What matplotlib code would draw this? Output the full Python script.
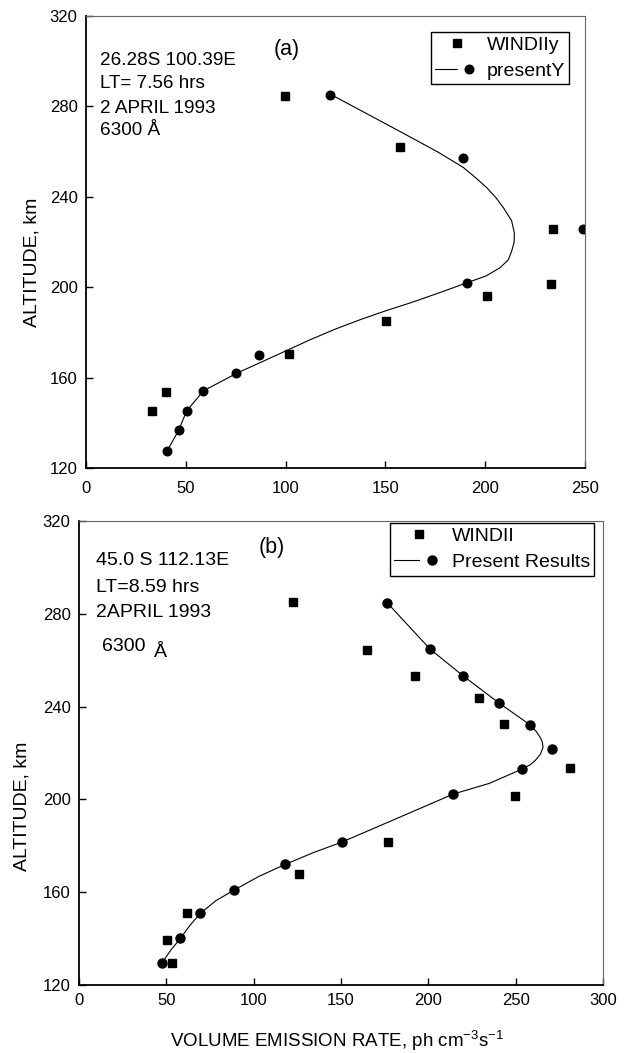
import matplotlib
matplotlib.use("Agg")
import matplotlib.pyplot as plt
from matplotlib.legend_handler import HandlerTuple

plt.rcParams['font.family'] = ['Liberation Sans', 'DejaVu Sans']
plt.rcParams['mathtext.default'] = 'regular'

# panel (a)
windii_a_x = [33.2, 39.9, 101.9, 150.1, 201.0, 233.0, 234.1, 157.3, 99.7]
windii_a_y = [145.2, 153.8, 170.4, 185.2, 196.0, 201.2, 225.9, 261.9, 284.6]
present_a_x = [40.7, 46.4, 50.4, 58.8, 75.3, 86.5, 190.7, 249.2, 189.0, 122.2]
present_a_y = [127.6, 136.6, 145.2, 154.0, 161.8, 170.1, 201.7, 225.9, 257.2, 285.2]
fit_a_x = [40.7, 46.4, 50.4, 58.8, 75.5, 92.2, 112.2, 124.5, 137.3, 150.0, 162.3, 176.0,
           190.7, 200.5, 207.4, 211.5, 213.3, 214.5, 214.6, 213.2, 209.1, 205.2, 200.7,
           195.0, 189.0, 176.5, 159.0, 142.3, 122.6]
fit_a_y = [127.6, 136.6, 145.2, 154.1, 161.9, 168.6, 176.7, 181.3, 185.6, 189.5, 193.0,
           197.2, 201.9, 205.0, 208.6, 212.0, 216.0, 220.0, 224.1, 229.5, 235.2, 239.8,
           244.1, 248.6, 253.0, 259.7, 268.1, 276.0, 285.3]

# panel (b)
windii_b_x = [53.0, 50.1, 62.1, 125.7, 177.1, 249.7, 281.0, 243.2, 228.8, 192.2, 165.0, 122.5]
windii_b_y = [129.6, 139.3, 150.9, 167.8, 181.8, 201.6, 213.4, 232.4, 243.8, 253.2, 264.4, 285.2]
present_b_x = [47.6, 58.1, 69.5, 89.0, 118.1, 150.5, 214.3, 253.5, 270.7, 258.3, 240.2,
               220.0, 201.0, 176.4]
present_b_y = [129.6, 140.1, 150.9, 161.0, 172.0, 181.6, 202.3, 213.0, 221.9, 232.1, 241.7,
               253.2, 264.8, 284.8]
fit_b_x = [47.6, 52.5, 58.1, 63.5, 69.5, 78.5, 89.0, 103.0, 118.1, 134.0, 150.5, 182.0,
           214.3, 234.9, 253.5, 258.5, 261.5, 264.2, 265.7, 265.3, 264.4, 261.8, 258.3,
           240.2, 220.0, 201.0, 176.4]
fit_b_y = [129.6, 135.0, 140.1, 145.7, 150.9, 156.4, 161.0, 166.8, 172.0, 177.0, 181.6,
           191.8, 202.3, 206.9, 213.0, 215.0, 217.0, 219.5, 222.5, 224.5, 226.3, 229.3,
           232.1, 241.7, 253.2, 264.8, 284.8]

yticks = [120, 160, 200, 240, 280, 320]
xticks_a = [0, 50, 100, 150, 200, 250]
xticks_b = [0, 50, 100, 150, 200, 250, 300]

fig = plt.figure(figsize=(6.24, 10.53), dpi=100)
ax1 = fig.add_axes([0.1378, 0.5556, 0.7997, 0.4292])
ax2 = fig.add_axes([0.1266, 0.0646, 0.8397, 0.4406])


def style(ax, xticks, xmax, xpad):
    ax.set_xlim(0, xmax)
    ax.set_ylim(120, 320)
    ax.set_xticks(xticks)
    ax.set_yticks(yticks)
    ax.tick_params(direction='in', length=5, width=1, color='black')
    ax.tick_params(axis='x', labelsize=12, pad=xpad)
    ax.tick_params(axis='y', labelsize=12, pad=6)
    for s in ['left', 'bottom']:
        ax.spines[s].set_linewidth(1.3)
    for s in ['top', 'right']:
        ax.spines[s].set_linewidth(0.8)
        ax.spines[s].set_color('#666666')


def panel(ax, wx, wy, px, py, fx, fy, ms_sq, ms_c):
    ln, = ax.plot(fx, fy, color='black', lw=0.8)
    sq, = ax.plot(wx, wy, ls='none', marker='s', ms=ms_sq, color='black', clip_on=False)
    ci, = ax.plot(px, py, ls='none', marker='o', ms=ms_c, color='black', clip_on=True)
    return ln, sq, ci


# ---- (a)
style(ax1, xticks_a, 250, 9.5)
ln, sq, ci = panel(ax1, windii_a_x, windii_a_y, present_a_x, present_a_y,
                   fit_a_x, fit_a_y, 5.5, 6.2)
ax1.set_ylabel('ALTITUDE, km', fontsize=14)
ax1.yaxis.set_label_coords(-0.092, 0.454)
leg = ax1.legend([sq, (ln, ci)], ['WINDIIy', 'presentY'],
                 handler_map={tuple: HandlerTuple(ndivide=None, pad=0)},
                 loc='upper right', bbox_to_anchor=(0.968, 0.9646), borderaxespad=0,
                 fancybox=False, framealpha=1, edgecolor='black', fontsize=14,
                 handlelength=2.3, handletextpad=0.36, labelspacing=0.45, borderpad=0.2)
leg.get_frame().set_linewidth(1.0)

txt_a = ['26.28S 100.39E', 'LT= 7.56 hrs', '2 APRIL 1993', '6300 Å']
ys_a = [0.8916, 0.8407, 0.7854, 0.7367]
for t, yy in zip(txt_a, ys_a):
    ax1.text(0.028, yy, t, transform=ax1.transAxes, fontsize=13.6, va='baseline')
ax1.text(0.403, 0.9146, '(a)', transform=ax1.transAxes, fontsize=15.5,
         ha='center', va='baseline')

# ---- (b)
style(ax2, xticks_b, 300, 6)
ln, sq, ci = panel(ax2, windii_b_x, windii_b_y, present_b_x, present_b_y,
                   fit_b_x, fit_b_y, 6, 6.5)
ax2.set_ylabel('ALTITUDE, km', fontsize=14)
ax2.yaxis.set_label_coords(-0.0935, 0.386)
leg = ax2.legend([sq, (ln, ci)], ['WINDII', 'Present Results'],
                 handler_map={tuple: HandlerTuple(ndivide=None, pad=0)},
                 loc='upper right', bbox_to_anchor=(0.983, 0.9957), borderaxespad=0,
                 fancybox=False, framealpha=1, edgecolor='black', fontsize=14,
                 handlelength=2.6, handletextpad=0.36, labelspacing=0.45, borderpad=0.22)
leg.get_frame().set_linewidth(1.0)

txt_b = ['45.0 S 112.13E', 'LT=8.59 hrs', '2APRIL 1993']
ys_b = [0.905, 0.847, 0.793]
for t, yy in zip(txt_b, ys_b):
    ax2.text(0.0324, yy, t, transform=ax2.transAxes, fontsize=14, va='baseline')
ax2.text(0.0439, 0.719, '6300', transform=ax2.transAxes, fontsize=14, va='baseline')
ax2.text(0.143, 0.7075, 'Å', transform=ax2.transAxes, fontsize=14, va='baseline')
ax2.text(0.367, 0.931, '(b)', transform=ax2.transAxes, fontsize=15.5,
         ha='center', va='baseline')

fig.text(337.5 / 624, 6 / 1053,
         r'VOLUME EMISSION RATE, ph cm$^{-3}$s$^{-1}$',
         fontsize=13.5, ha='center', va='baseline')

fig.savefig('out.png', dpi=100)
plt.close(fig)
